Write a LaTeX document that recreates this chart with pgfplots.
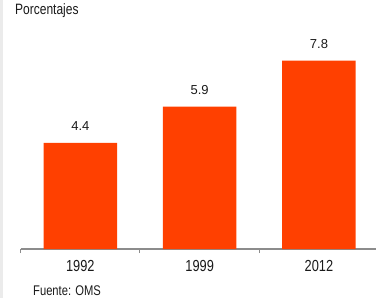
\documentclass[border=0pt]{standalone}
\usepackage{pgfplots}
\pgfplotsset{compat=1.18}
\usepackage{fontspec}
\setmainfont{Liberation Sans}
\newfontfamily\narrowfont[FakeStretch=0.8]{Liberation Sans}
\definecolor{barcol}{RGB}{255,64,0}
\definecolor{axgray}{RGB}{140,140,140}
\definecolor{strip}{RGB}{235,235,235}
\definecolor{txt}{RGB}{26,26,26}
\begin{document}
\begin{tikzpicture}
\path[use as bounding box] (0,0) rectangle (376pt,298pt);
\fill[strip] (0,0) rectangle (2.7pt,298pt);
\node[anchor=base west,inner sep=0,text=txt] at (15pt,283pt) {\narrowfont\fontsize{15}{17}\selectfont Porcentajes};
\node[anchor=base west,inner sep=0,text=txt] at (33pt,2.5pt) {\narrowfont\fontsize{14}{16}\selectfont Fuente: OMS};
\begin{axis}[
  at={(20.7pt,49pt)}, anchor=south west,
  scale only axis, width=357.9pt, height=229.4pt,
  xmin=-0.5, xmax=2.5, ymin=0, ymax=9.5,
  hide y axis,
  axis x line*=bottom,
  axis line style={axgray, line width=1.2pt, -},
  xtick={0,1,2}, xticklabels={1992,1999,2012},
  major tick length=0pt,
  minor xtick={-0.5,0.5,1.5,2.5},
  minor tick length=4pt,
  tick align=outside,
  minor tick style={axgray, line width=1pt},
  xticklabel style={font=\narrowfont\fontsize{16}{18}\selectfont, text=txt, inner sep=0pt, anchor=north, yshift=-11pt},
  ybar, bar width=73.5pt,
  nodes near coords,
  /pgf/number format/assume math mode=true,
  nodes near coords style={font=\fontsize{13}{15}\selectfont, text=txt, inner sep=0pt, anchor=south, yshift=12pt, /pgf/number format/fixed, /pgf/number format/precision=1, /pgf/number format/fixed zerofill, /pgf/number format/assume math mode=true},
  clip=false,
]
\addplot[fill=barcol, draw=none] coordinates {(0,4.4) (1,5.9) (2,7.8)};
\end{axis}
\end{tikzpicture}
\end{document}
